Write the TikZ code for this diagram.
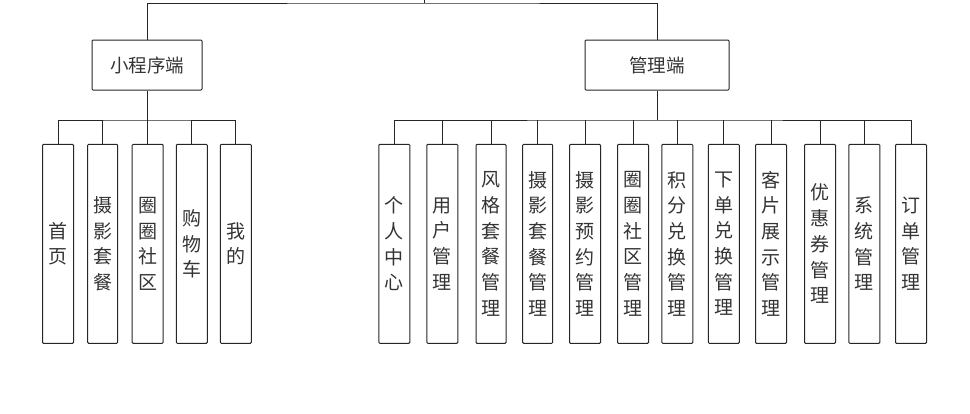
\documentclass[tikz,border=0pt]{standalone}
\usepackage{fontspec}
\newfontfamily\cjk{Noto Sans CJK SC}
\begin{document}
\begin{tikzpicture}[x=1pt,y=-1pt,
  line/.style={draw=black!85, line width=1pt},
  topbox/.style={line, rectangle, rounded corners=1pt, minimum height=50pt, inner sep=0pt, font=\cjk\fontsize{18.5}{20}\selectfont, text=black!80},
  leaf/.style={line, rectangle, rounded corners=1pt, minimum width=31pt, minimum height=199pt, inner sep=0pt, align=center, font=\cjk\fontsize{19}{25.7}\selectfont, text=black!80}]
\useasboundingbox (0,0) rectangle (970,413);
\coordinate (root) at (424,0);
\coordinate (rootj) at (424,3);
\node[topbox, minimum width=110pt] (mini) at (147,65) {小程序端};
\node[topbox, minimum width=144pt] (admin) at (657,65) {管理端};
\draw[line] (root) -- (rootj);
\draw[line] (mini.north) |- (rootj) -| (admin.north);
% left leaves
\node[leaf] (l1) at (58,243.8) {首\\页};
\node[leaf, minimum width=30pt] (l2) at (102.7,243.8) {摄\\影\\套\\餐};
\node[leaf] (l3) at (147.7,243.8) {圈\\圈\\社\\区};
\node[leaf] (l4) at (191.8,243.8) {购\\物\\车};
\node[leaf] (l5) at (235.8,243.8) {我\\的};
\coordinate (bl) at (147,120);
\draw[line] (mini.south) -- (bl);
\draw[line] (l1.north) |- (bl) -| (l5.north);
\foreach \n in {l2,l3,l4} {\draw[line] (\n.north |- bl) -- (\n.north);}
% right leaves
\node[leaf] (r1) at (394.3,243.8) {个\\人\\中\\心};
\node[leaf] (r2) at (442.3,243.8) {用\\户\\管\\理};
\node[leaf, minimum width=30pt] (r3) at (491,243.8) {风\\格\\套\\餐\\管\\理};
\node[leaf, minimum width=30pt] (r4) at (537.7,243.8) {摄\\影\\套\\餐\\管\\理};
\node[leaf] (r5) at (585,243.8) {摄\\影\\预\\约\\管\\理};
\node[leaf] (r6) at (633,243.8) {圈\\圈\\社\\区\\管\\理};
\node[leaf] (r7) at (677.3,243.8) {积\\分\\兑\\换\\管\\理};
\node[leaf] (r8) at (723.8,243.8) {下\\单\\兑\\换\\管\\理};
\node[leaf] (r9) at (771,243.8) {客\\片\\展\\示\\管\\理};
\node[leaf] (r10) at (820,243.8) {优\\惠\\券\\管\\理};
\node[leaf] (r11) at (864.3,243.8) {系\\统\\管\\理};
\node[leaf] (r12) at (911,243.8) {订\\单\\管\\理};
\coordinate (br) at (657,120);
\draw[line] (admin.south) -- (br);
\draw[line] (r1.north) |- (br) -| (r12.north);
\foreach \n in {r2,r3,r4,r5,r6,r7,r8,r9,r10,r11} {\draw[line] (\n.north |- br) -- (\n.north);}
\end{tikzpicture}
\end{document}
